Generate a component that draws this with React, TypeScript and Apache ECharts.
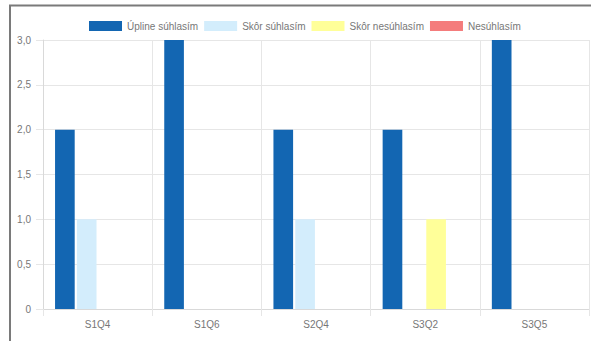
import React, { useEffect, useRef } from "react";
import * as echarts from "echarts";

const categories = ["S1Q4", "S1Q6", "S2Q4", "S3Q2", "S3Q5"];
const seriesNames = ["Úpline súhlasím", "Skôr súhlasím", "Skôr nesúhlasím", "Nesúhlasím"];
const upline = [2, 3, 2, 2, 3];
const skorSuhlasim = [1, 0, 1, 0, 0];
const skorNesuhlasim = [0, 0, 0, 1, 0];
const nesuhlasim = [0, 0, 0, 0, 0];
const colors = ["#1366b2", "#d3edfc", "#ffff99", "#f47c7c"];

const FONT = "Liberation Sans";

export default function App() {
  const ref = useRef<HTMLDivElement>(null);
  useEffect(() => {
    if (!ref.current) return;
    const chart = echarts.init(ref.current, undefined, { renderer: "svg" });
    const values = [upline, skorSuhlasim, skorNesuhlasim, nesuhlasim];
    chart.setOption({
      animation: false,
      color: colors,
      legend: {
        top: 16,
        left: 84,
        itemWidth: 33,
        itemHeight: 10,
        itemGap: 6,
        icon: "rect",
        textStyle: { color: "#777", fontSize: 10, fontFamily: FONT },
        data: seriesNames,
      },
      grid: { left: 43, right: 2, top: 40, bottom: 32, containLabel: false },
      xAxis: {
        type: "category",
        data: categories,
        boundaryGap: true,
        axisLine: { show: true, lineStyle: { color: "#d9d9d9", width: 1 } },
        axisTick: { show: true, length: 7, alignWithLabel: false, lineStyle: { color: "#e6e6e6" } },
        axisLabel: { color: "#777", fontSize: 10, fontFamily: FONT, margin: 10 },
        splitLine: { show: true, lineStyle: { color: "#e6e6e6", width: 1 } },
      },
      yAxis: {
        type: "value",
        min: 0,
        max: 3,
        interval: 0.5,
        axisLine: { show: true, lineStyle: { color: "#d9d9d9", width: 1 } },
        axisTick: { show: true, length: 7, lineStyle: { color: "#e6e6e6" } },
        axisLabel: {
          color: "#777",
          fontSize: 10,
          fontFamily: FONT,
          margin: 12,
          formatter: (v: number) => (v === 0 ? "0" : v.toFixed(1).replace(".", ",")),
        },
        splitLine: { show: true, lineStyle: { color: "#e6e6e6", width: 1 } },
      },
      series: seriesNames.map((name, i) => ({
        name,
        type: "bar",
        data: values[i],
        barWidth: "18%",
        barGap: "11%",
        itemStyle: { color: colors[i] },
      })),
      graphic: [
        {
          type: "line",
          shape: { x1: 9, y1: 5.5, x2: 591, y2: 5.5 },
          style: { stroke: "#7a7a7a", lineWidth: 2 },
          silent: true,
        },
        {
          type: "line",
          shape: { x1: 10, y1: 5, x2: 10, y2: 341 },
          style: { stroke: "#7a7a7a", lineWidth: 2 },
          silent: true,
        },
      ],
    });
    return () => chart.dispose();
  }, []);
  return (
    <div
      ref={ref}
      style={{ position: "fixed", left: 0, top: 0, width: 591, height: 341, background: "#fff" }}
    />
  );
}
